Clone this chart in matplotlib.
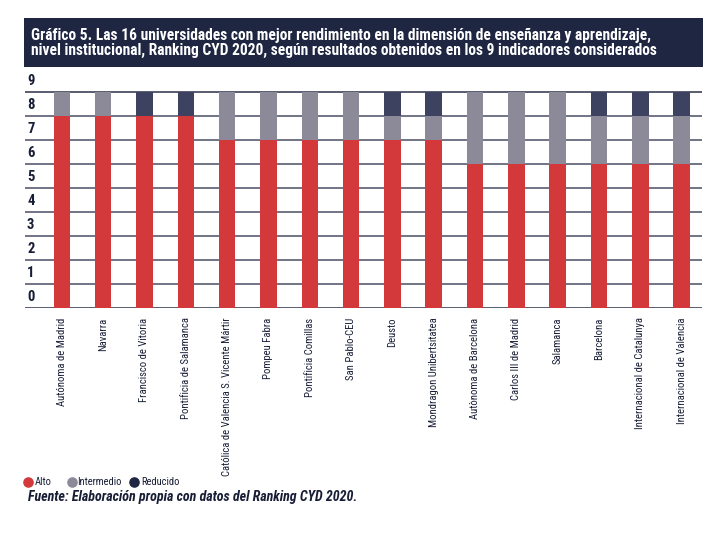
import matplotlib
matplotlib.use("Agg")
import matplotlib.pyplot as plt
from matplotlib import font_manager
from matplotlib.patches import Rectangle
from matplotlib.lines import Line2D
import numpy as np

names = {f.name for f in font_manager.fontManager.ttflist}
prefs = ['Roboto Condensed', 'Liberation Sans Narrow', 'Open Sans Condensed', 'Roboto']
narrow = next((p for p in prefs if p in names), 'DejaVu Sans')
plt.rcParams['font.family'] = [narrow, 'DejaVu Sans']

universidades = [
    "Autónoma de Madrid", "Navarra", "Francisco de Vitoria", "Pontificia de Salamanca",
    "Católica de Valencia S. Vicente Mártir", "Pompeu Fabra", "Pontificia Comillas",
    "San Pablo-CEU", "Deusto", "Mondragon Unibertsitatea", "Autònoma de Barcelona",
    "Carlos III de Madrid", "Salamanca", "Barcelona", "Internacional de Catalunya",
    "Internacional de Valencia",
]
alto = [8, 8, 8, 8, 7, 7, 7, 7, 7, 7, 6, 6, 6, 6, 6, 6]
intermedio = [1, 1, 0, 0, 2, 2, 2, 2, 1, 1, 3, 3, 3, 2, 2, 2]
reducido = [0, 0, 1, 1, 0, 0, 0, 0, 1, 1, 0, 0, 0, 1, 1, 1]
series_names = ["Alto", "Intermedio", "Reducido"]
yticks = list(range(0, 10))
titulo = ["Gráfico 5. Las 16 universidades con mejor rendimiento en la dimensión de enseñanza y aprendizaje,",
          "nivel institucional, Ranking CYD 2020, según resultados obtenidos en los 9 indicadores considerados"]
fuente = "Fuente: Elaboración propia con datos del Ranking CYD 2020."

c_red = '#D3393A'
c_gray = '#8C8999'
c_dark = '#3D4260'
navy = '#1E2642'
text_c = '#171D35'

W, H = 722, 541
fig = plt.figure(figsize=(W / 100, H / 100), dpi=100)
renderer = fig.canvas.get_renderer()


def fit(t, target_px):
    w = t.get_window_extent(renderer).width
    t.set_fontsize(t.get_fontsize() * target_px / w)
    return t


# title box
fig.patches.append(Rectangle((24 / W, 1 - 66.7 / H), (702.7 - 24) / W, (66.7 - 18) / H,
                             transform=fig.transFigure, facecolor=navy, edgecolor='none'))
t1 = fig.text(31 / W, 1 - 35 / H, titulo[0],
              color='white', fontsize=11.5, fontweight='bold', va='center', ha='left')
t2 = fig.text(31 / W, 1 - 50.5 / H, titulo[1],
              color='white', fontsize=11.5, fontweight='bold', va='center', ha='left')
fit(t1, 624)
t2.set_fontsize(t1.get_fontsize())

ax = fig.add_axes([25 / W, 1 - 307.7 / H, 677 / W, (307.7 - 73.7) / H])
x = np.arange(len(universidades))
alto_a = np.array(alto)
inter_a = np.array(intermedio)
red_a = np.array(reducido)
ax.bar(x, alto_a, width=0.40, color=c_red, zorder=2)
ax.bar(x, inter_a, width=0.40, bottom=alto_a, color=c_gray, zorder=2)
ax.bar(x, red_a, width=0.40, bottom=alto_a + inter_a, color=c_dark, zorder=2)

ax.set_xlim(-0.89, 15.49)
ax.set_ylim(0, 9.75)
for v in yticks:
    ax.axhline(v, color='#2B3048' if v in (0, 9) else '#4A4E63', lw=1.1, zorder=1)
    ax.text(0.003, v + 0.45, str(v), transform=ax.get_yaxis_transform(),
            ha='left', va='center', fontsize=10.5, fontweight='bold', color=text_c)
ax.set_yticks([])
for s in ax.spines.values():
    s.set_visible(False)
ax.set_xticks(x)
labels = ax.set_xticklabels(universidades, rotation=90, fontsize=8.5, color=text_c, va='top')
longest = labels[4]
w = longest.get_window_extent(renderer).height
fs = 8.5 * 158 / w
for lb in labels:
    lb.set_fontsize(fs)
ax.tick_params(axis='x', length=0, pad=7)

# legend (manual placement)
leg_colors = [c_red, c_gray, '#1E2642']
marker_x = [28, 72, 133.5]
text_x = [35, 77, 141]
leg_y = 1 - 482 / H
probe = fig.text(0, 0, series_names[1], fontsize=9)
fit(probe, 45)
lfs = probe.get_fontsize()
probe.remove()
for name, c, mx, tx in zip(series_names, leg_colors, marker_x, text_x):
    fig.add_artist(Line2D([mx / W], [leg_y], marker='o', ls='none', color=c, markersize=6.6,
                          transform=fig.transFigure))
    fig.text(tx / W, leg_y, name, fontsize=lfs, color=text_c, va='center', ha='left')

tf = fig.text(28 / W, 1 - 497 / H, fuente,
              fontsize=10.5, fontweight='bold', style='italic', color=text_c, va='center', ha='left')
fit(tf, 330)

fig.savefig('out.png', dpi=100)
